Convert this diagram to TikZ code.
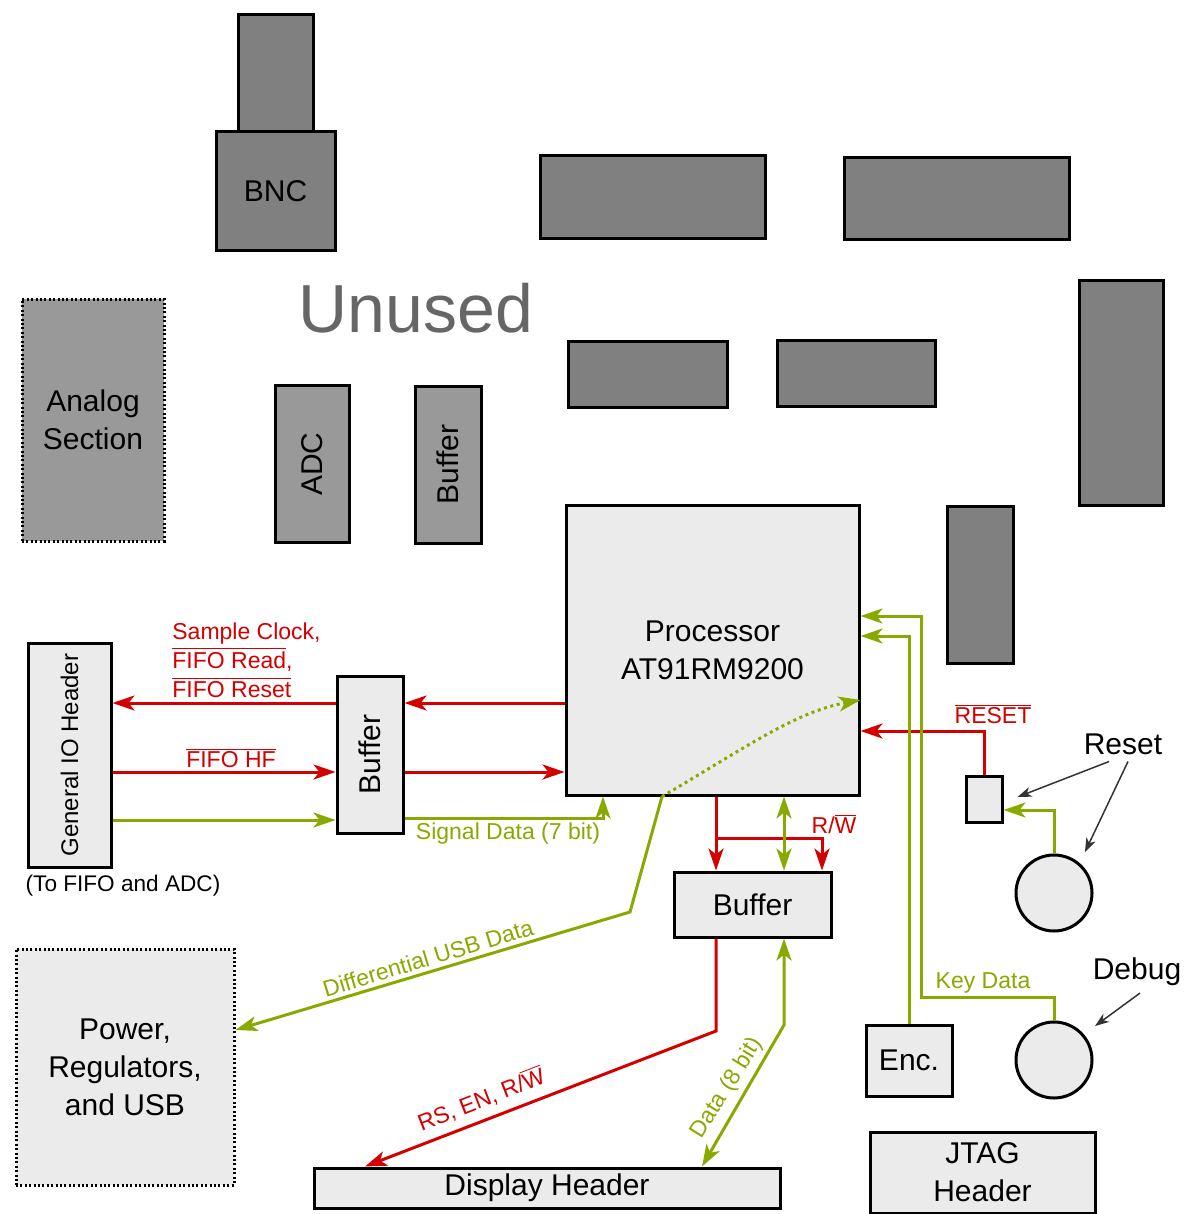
\documentclass[tikz,border=0pt]{standalone}
\usepackage{fontspec}
\setmainfont{Liberation Sans}
\usetikzlibrary{arrows.meta}
\definecolor{sigred}{HTML}{D40000}
\definecolor{siggreen}{HTML}{88AA00}
\definecolor{dkgray}{HTML}{808080}
\definecolor{mdgray}{HTML}{999999}
\definecolor{ltgray}{HTML}{EBEBEB}
\definecolor{txtgray}{HTML}{666666}
\newcommand{\inv}[1]{$\overline{\mbox{#1}}$}
\begin{document}
\begin{tikzpicture}[x=0.5pt,y=-0.5pt,>={Stealth[length=11pt,width=7.5pt,inset=3pt]},
  chip/.style={draw,line width=1.5pt,fill=ltgray,inner sep=0pt,align=center,font=\fontsize{15}{19}\selectfont},
  unused/.style={chip,fill=dkgray},
  analog/.style={chip,fill=mdgray},
  dotbox/.style={dash pattern=on 1pt off 1.2pt},
  ctl/.style={draw=sigred,line width=1.5pt},
  dat/.style={draw=siggreen,line width=1.5pt},
  sig/.style={font=\fontsize{11.5}{14.5}\selectfont},
  note/.style={draw=black!80,line width=0.75pt,-{Stealth[length=7pt,width=5pt,inset=2pt]}}]
\useasboundingbox (0,0) rectangle (1187,1214);
% unused parts
\node[unused,minimum width=37.5pt,minimum height=58.5pt] (bncs) at (275.5,73.5) {};
\node[unused,minimum width=59.5pt,minimum height=59pt] (bnc) at (275.5,191) {BNC};
\node[unused,minimum width=112.5pt,minimum height=41.5pt] (u1) at (652.5,197.5) {};
\node[unused,minimum width=112.5pt,minimum height=41pt] (u2) at (956.5,199) {};
\node[unused,minimum width=79.5pt,minimum height=33pt] (u3) at (647.5,374) {};
\node[unused,minimum width=79pt,minimum height=33pt] (u4) at (856,373) {};
\node[unused,minimum width=42pt,minimum height=112.5pt] (u5) at (1121,392.5) {};
\node[unused,minimum width=33pt,minimum height=78.5pt] (u6) at (980,584.5) {};
\node[text=txtgray,font=\fontsize{34}{40}\selectfont] (unused) at (416,308) {Unused};
% analog side
\node[analog,dotbox,minimum width=71pt,minimum height=121pt] (ana) at (93,420) {Analog\\Section};
\node[analog,minimum width=37pt,minimum height=78.5pt] (adc) at (312,464) {\rotatebox{90}{ADC}};
\node[analog,minimum width=33pt,minimum height=78.5pt] (abuf) at (448,464.5) {\rotatebox{90}{Buffer}};
% used parts
\node[chip,minimum width=146.5pt,minimum height=145pt] (proc) at (712.5,650) {Processor\\AT91RM9200};
\node[chip,minimum width=41.5pt,minimum height=112pt] (gio) at (69.5,755) {\rotatebox{90}{\fontsize{12}{14}\selectfont General IO Header}};
\node[font=\fontsize{11.3}{14}\selectfont] (gionote) at (123,886) {(To FIFO and ADC)};
\node[chip,minimum width=33pt,minimum height=78.5pt] (buf1) at (370,754.5) {\rotatebox{90}{Buffer}};
\node[chip,minimum width=78.5pt,minimum height=32.5pt] (buf2) at (752.5,904.5) {Buffer};
\node[chip,minimum width=233pt,minimum height=20pt] (disp) at (547,1188) {Display Header};
\node[chip,dotbox,minimum width=109pt,minimum height=118pt] (pwr) at (125,1067) {Power,\\Regulators,\\and USB};
\node[chip,minimum width=43pt,minimum height=35.5pt] (enc) at (909,1060.5) {Enc.};
\node[chip,minimum width=112.5pt,minimum height=40.5pt] (jtag) at (982.5,1172.5) {JTAG\\Header};
\node[chip,minimum width=18pt,minimum height=23pt] (rbox) at (984,799) {};
\node[chip,circle,minimum size=38pt] (rbtn) at (1054,893) {};
\node[chip,circle,minimum size=38pt] (dbtn) at (1054,1060) {};
\node[font=\fontsize{15}{19}\selectfont] (rlbl) at (1123,744) {Reset};
\node[font=\fontsize{15}{19}\selectfont] (dlbl) at (1137,972) {Debug};
% signal labels
\node[sig,text=sigred,align=left,anchor=west,inner sep=0pt] (rdlbl) at (172,660) {Sample Clock,\\\inv{FIFO Read},\\\inv{FIFO Reset}};
\node[sig,text=sigred] (hflbl) at (231,758) {\inv{FIFO HF}};
\node[sig,text=siggreen] (sdlbl) at (508,834) {Signal Data (7 bit)};
\node[sig,text=sigred] (rwlbl) at (834,824) {R/\inv{W}};
\node[sig,text=sigred] (rstlbl) at (993,714) {\inv{RESET}};
\node[sig,text=siggreen] (kdlbl) at (983,983) {Key Data};
\node[sig,text=siggreen,rotate=16.8] (usblbl) at (428,958) {Differential USB Data};
\node[sig,text=sigred,rotate=21.3] (dctl) at (481,1099) {RS, EN, R/\inv{W}};
\node[sig,text=siggreen,rotate=58] (ddat) at (727,1088) {Data (8 bit)};
% general io
\draw[ctl,->] (proc.west |- 0,703) -- (buf1.east |- 0,703);
\draw[ctl,->] (buf1.west |- 0,703) -- (gio.east |- 0,703);
\draw[ctl,->] (gio.east |- 0,772) -- (buf1.west |- 0,772);
\draw[ctl,->] (buf1.east |- 0,772) -- (proc.west |- 0,772);
\draw[dat,->] (gio.east |- 0,820) -- (buf1.west |- 0,820);
\draw[dat,->] (buf1.east |- 0,818) -| (proc.south -| 603,0);
% usb
\draw[dat,->,dash pattern=on 1.5pt off 1.8pt] (proc.south -| 662,0) .. controls (745,748) and (795,712) .. (proc.east |- 0,700);
\draw[dat,->] (proc.south -| 662,0) -- (630,912) -- (pwr.east |- 0,1030);
% display
\coordinate (rwj) at (716,838);
\draw[ctl,->] (proc.south -| 716,0) -- (buf2.north -| 716,0);
\draw[ctl,->] (rwj) -| (buf2.north -| 822,0);
\draw[dat,<->] (proc.south -| 784,0) -- (buf2.north -| 784,0);
\draw[ctl,->] (buf2.south -| 716,0) -- (716,1031) -- (disp.north -| 365,0);
\draw[dat,<->] (buf2.south -| 784,0) -- (784,1025) -- (disp.north -| 702,0);
% buttons and encoder
\draw[dat,->] (rbtn.north) |- (rbox.east |- 0,810);
\draw[ctl,->] (rbox.north) |- (proc.east |- 0,731);
\draw[dat,->] (enc.north) |- (proc.east |- 0,636);
\draw[dat,->] (dbtn.north) |- (921,997) |- (proc.east |- 0,616);
\draw[note] ([xshift=-7pt]rlbl.south) -- ([xshift=7pt,yshift=1pt]rbox.east);
\draw[note] ([xshift=2.5pt]rlbl.south) -- ([xshift=1.5pt,yshift=6.5pt]rbtn.north east);
\draw[note] ([xshift=1.5pt]dlbl.south) -- ([xshift=6.5pt,yshift=3pt]dbtn.north east);
\end{tikzpicture}
\end{document}
